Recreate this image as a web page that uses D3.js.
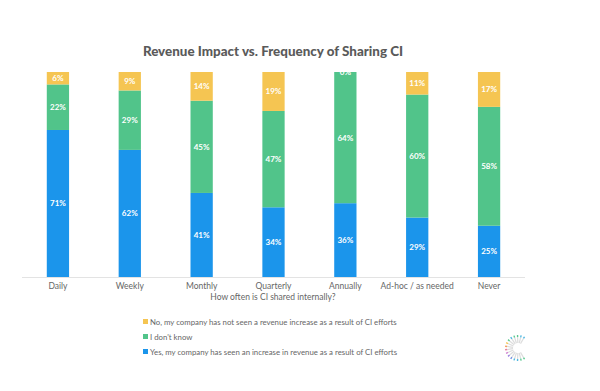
<!DOCTYPE html>
<html><head><meta charset="utf-8">
<script src="https://cdn.jsdelivr.net/npm/d3@7"></script>
<style>body{margin:0;background:#fff}svg{display:block}</style>
</head><body>
<svg id="c" width="600" height="391"></svg>
<script>
const categories = ["Daily","Weekly","Monthly","Quarterly","Annually","Ad-hoc / as needed","Never"];
const yesValues = [71,62,41,34,36,29,25];
const dontKnowValues = [22,29,45,47,64,60,58];
const noValues = [6,9,14,19,0,11,17];
const seriesNames = ["Yes, my company has seen an increase in revenue as a result of CI efforts","I don't know","No, my company has not seen a revenue increase as a result of CI efforts"];
const seriesKeys = ["yes","dk","no"];
const colors = ["#1B95EB","#51C48A","#F5C552"];

(function(){
const rows = categories.map((c,i)=>({cat:c, yes:yesValues[i], dk:dontKnowValues[i], no:noValues[i]}));
const stack = d3.stack().keys(seriesKeys).offset(d3.stackOffsetExpand);
const stacked = stack(rows);

const svg = d3.select("#c");
const plotTop = 72, plotBottom = 277;
const x = d3.scaleBand().domain(categories).range([22,525]).paddingInner(0.69).paddingOuter(0.345);
const y = d3.scaleLinear().domain([0,1]).range([plotBottom, plotTop]);

svg.append("defs").append("clipPath").attr("id","clip")
  .append("rect").attr("x",0).attr("y",plotTop).attr("width",600).attr("height",plotBottom-plotTop);

svg.append("text").attr("x",273).attr("y",56).attr("text-anchor","middle")
  .attr("font-family","Lato").attr("font-weight",900).attr("font-size",13.4).attr("fill","#5a5a5a")
  .text("Revenue Impact vs. Frequency of Sharing CI");

const g = svg.append("g");
g.selectAll("g.s").data(stacked).join("g").attr("fill",(d,i)=>colors[i])
  .selectAll("rect").data(d=>d).join("rect")
  .attr("x",d=>x(d.data.cat)).attr("width",x.bandwidth())
  .attr("y",d=>y(d[1])).attr("height",d=>y(d[0])-y(d[1]));

const lg = svg.append("g").attr("clip-path","url(#clip)");
stacked.forEach((s,si)=>{
  const vals = [yesValues,dontKnowValues,noValues][si];
  lg.selectAll(null).data(s).join("text")
    .attr("x",d=>x(d.data.cat)+x.bandwidth()/2)
    .attr("y",d=>(y(d[0])+y(d[1]))/2+3)
    .attr("text-anchor","middle").attr("font-family","Lato").attr("font-weight",700)
    .attr("font-size",8).attr("fill","#fff")
    .text((d,i)=>vals[i]+"%");
});

// axis
const ax = svg.append("g").attr("transform",`translate(0,${plotBottom})`).call(d3.axisBottom(x).tickSize(0).tickPadding(6));
ax.select(".domain").attr("stroke","#e3e3e3").attr("d","M22,0.5H525");
ax.selectAll("text").attr("font-family","Lato").attr("font-size",8.5).attr("fill","#666");

svg.append("text").attr("x",273).attr("y",300).attr("text-anchor","middle")
  .attr("font-family","Lato").attr("font-size",8.5).attr("fill","#666")
  .text("How often is CI shared internally?");

// legend
const legOrder = [2,1,0];
const leg = svg.append("g");
legOrder.forEach((si,k)=>{
  const yy = 322 + k*15;
  leg.append("rect").attr("x",143).attr("y",yy-3).attr("width",5).attr("height",5).attr("fill",colors[si]);
  leg.append("text").attr("x",150).attr("y",yy+2.5).attr("font-family","Lato").attr("font-size",7.8).attr("fill","#666").text(seriesNames[si]);
});

// logo
const logo = svg.append("g").attr("transform","translate(518,348)");
const tipColors = ["#59c98f","#59c98f","#4fb7e0","#4fb7e0","#6f8fe0","#9b7fe0","#d07fd0","#e97fa0","#f2a060","#f5c552","#59c98f","#4fb7e0"];
const angles = d3.range(-120, 125, 16);
angles.forEach((a,i)=>{
  const r = (a+180)*Math.PI/180;
  const c = Math.cos(r), s = Math.sin(r);
  logo.append("line").attr("x1",c*5).attr("y1",s*5).attr("x2",c*11).attr("y2",s*11).attr("stroke","#ddd").attr("stroke-width",1.2);
  logo.append("line").attr("x1",c*11).attr("y1",s*11).attr("x2",c*13).attr("y2",s*13).attr("stroke",tipColors[i%tipColors.length]).attr("stroke-width",1.4);
});
})();
</script>
</body></html>
